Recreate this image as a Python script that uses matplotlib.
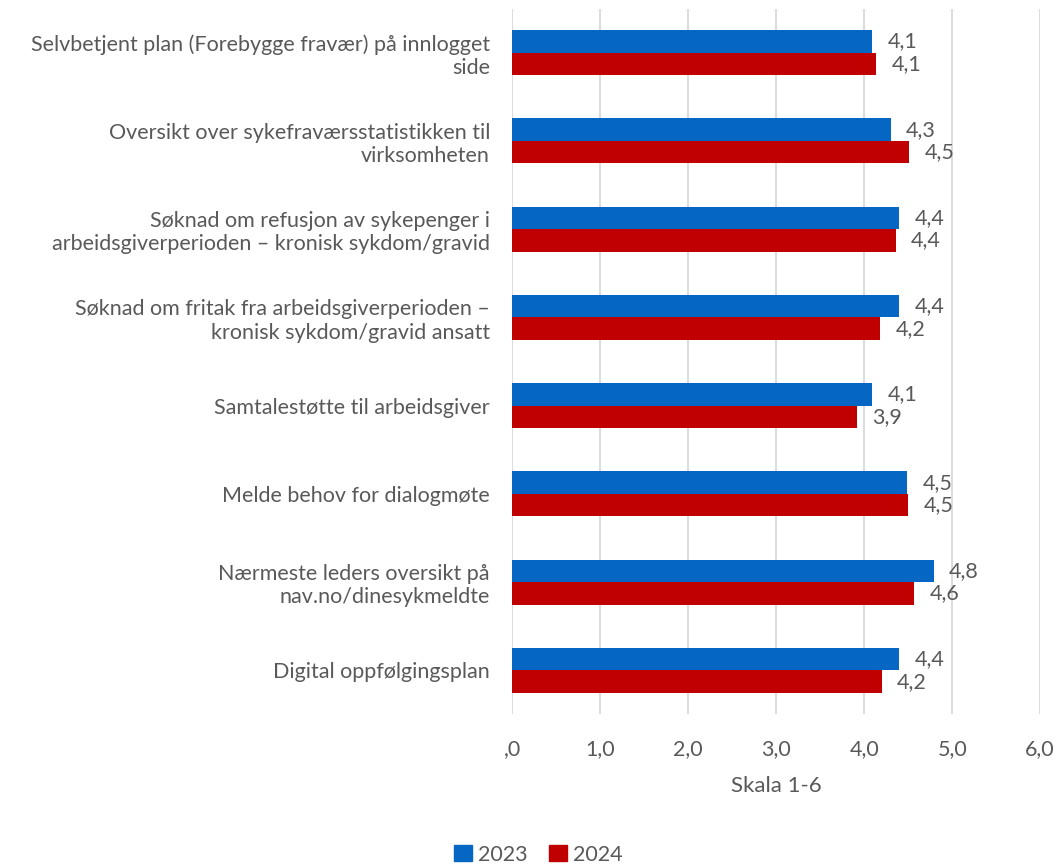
import numpy as np
import matplotlib
matplotlib.use("Agg")
import matplotlib.pyplot as plt
from matplotlib.patches import Patch

plt.rcParams['font.family'] = ['Lato', 'DejaVu Sans']

categories = [
    "Selvbetjent plan (Forebygge fravær) på innlogget\nside",
    "Oversikt over sykefraværsstatistikken til\nvirksomheten",
    "Søknad om refusjon av sykepenger i\narbeidsgiverperioden – kronisk sykdom/gravid",
    "Søknad om fritak fra arbeidsgiverperioden –\nkronisk sykdom/gravid ansatt",
    "Samtalestøtte til arbeidsgiver",
    "Melde behov for dialogmøte",
    "Nærmeste leders oversikt på\nnav.no/dinesykmeldte",
    "Digital oppfølgingsplan",
]
vals_2023 = [4.09, 4.30, 4.40, 4.40, 4.09, 4.49, 4.79, 4.40]
vals_2024 = [4.14, 4.51, 4.36, 4.18, 3.92, 4.50, 4.57, 4.20]
xticks = [0, 1, 2, 3, 4, 5, 6]
xticklabels = [",0", "1,0", "2,0", "3,0", "4,0", "5,0", "6,0"]

blue = "#0566C4"
red = "#C00000"
txt = "#595959"
fs = 15.5

fig = plt.figure(figsize=(10.56, 8.65), dpi=100)
ax = fig.add_axes([0.485, 0.174, 0.5, 0.816])

y = np.arange(len(categories))
h = 0.255
b1 = ax.barh(y - h / 2, vals_2023, height=h, color=blue, label="2023", zorder=3)
b2 = ax.barh(y + h / 2, vals_2024, height=h, color=red, label="2024", zorder=3)

for bars, vals in ((b1, vals_2023), (b2, vals_2024)):
    labs = [f"{v:.1f}".replace(".", ",") for v in vals]
    ax.bar_label(bars, labels=labs, padding=11, fontsize=fs, color=txt)

ax.set_ylim(len(categories) - 0.5, -0.5)
ax.set_xlim(0, 6)
ax.set_xticks(xticks)
ax.set_xticklabels(xticklabels, fontsize=fs, color=txt)
ax.set_yticks(y)
ax.set_yticklabels(categories, fontsize=fs, color=txt, ha="right", multialignment="right")
ax.tick_params(axis="y", length=0, pad=16)
ax.tick_params(axis="x", length=0, pad=18)
ax.grid(axis="x", color="#d9d9d9", linewidth=1.3, zorder=0)
for s in ax.spines.values():
    s.set_visible(False)
ax.set_xlabel("Skala 1-6", fontsize=16, color=txt, labelpad=12)

handles = [Patch(color=blue, label="2023"), Patch(color=red, label="2024")]
fig.legend(handles=handles, loc="center", bbox_to_anchor=(0.51, 0.012), ncol=2,
           frameon=False, fontsize=fs, handlelength=0.8, handleheight=0.8,
           handletextpad=0.3, columnspacing=1.0, labelcolor=txt)

fig.savefig("out.png", dpi=100)
